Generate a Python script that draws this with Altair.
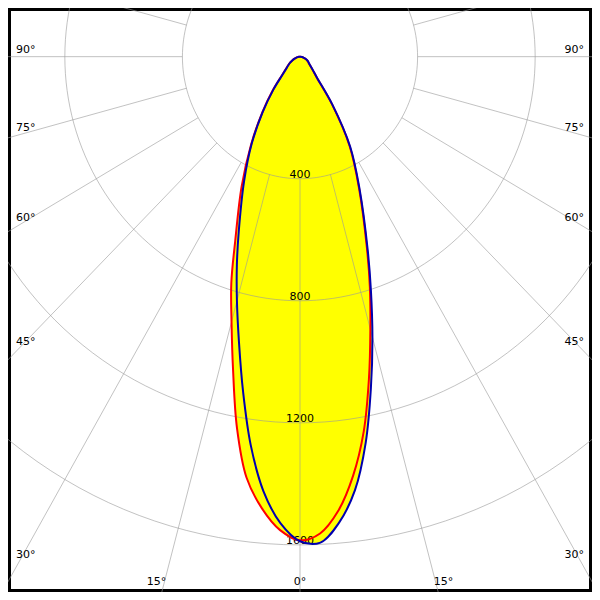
import altair as alt
import numpy as np
import pandas as pd

# ---- data (polar intensity curves, cd) ----
ANGLES = [-90, -85, -80, -75, -70, -65, -60, -55, -50, -45, -40, -35, -30, -25,
          -20, -17.5, -15, -12.5, -10, -7.5, -5, -2.5, 0, 2.5, 5, 7.5, 10, 12.5, 15, 17.5, 20,
          25, 30, 35, 40, 45, 50, 55, 60, 65, 70, 75, 80, 85, 90]  # from nadir, + = right
BLUE = [0, 4, 8, 14, 21, 29, 38, 48, 61, 85, 141, 221, 328, 450,
        609, 714, 829, 959, 1115, 1284, 1429, 1530, 1588, 1594, 1532, 1433, 1286, 1114, 952, 802, 673,
        480, 342, 192, 90, 61, 46, 37, 32, 26, 19, 12, 7, 3, 0]
RED = [0, 4, 8, 14, 21, 29, 39, 49, 63, 88, 144, 224, 333, 470,
       645, 777, 900, 1052, 1235, 1392, 1486, 1553, 1585, 1564, 1494, 1385, 1248, 1083, 925, 790, 665,
       475, 337, 189, 88, 60, 45, 36, 31, 25, 18, 12, 7, 3, 0]
RING_VALUES = [400, 800, 1200, 1600]
GRID_ANGLES = list(range(-165, 181, 15))
EDGE_LABEL_ANGLES = [30, 45, 60, 75, 90]
BOTTOM_LABEL_ANGLES = [0, 15]

# ---- scale setup ----
W = H = 584
PXX, PXY = 0.302, 0.3135          # reference px per cd (horizontal / vertical)
XMAX = 300 / PXX
YTOP = 50 / PXY
YBOT = 550 / PXY

xs = alt.Scale(domain=[-XMAX, XMAX], nice=False, zero=False)
ys = alt.Scale(domain=[-YBOT, YTOP], nice=False, zero=False)
X = lambda f: alt.X(f, type="quantitative", scale=xs, axis=None)
Y = lambda f: alt.Y(f, type="quantitative", scale=ys, axis=None)

# curves
rows = []
for name, vals in (("red", RED), ("blue", BLUE)):
    for i, (a, v) in enumerate(zip(ANGLES, vals)):
        t = np.radians(a)
        rows.append({"curve": name, "i": i, "x": v * np.sin(t), "y": -v * np.cos(t)})
curves = pd.DataFrame(rows)

# rings
rrows = []
for r in RING_VALUES:
    for k, p in enumerate(range(0, 361, 2)):
        t = np.radians(p)
        rrows.append({"ring": r, "i": k, "x": r * np.sin(t), "y": -r * np.cos(t)})
rings = pd.DataFrame(rrows)

# radial lines
rad = pd.DataFrame([{
    "x": RING_VALUES[0] * np.sin(np.radians(a)), "y": -RING_VALUES[0] * np.cos(np.radians(a)),
    "x2": 2200 * np.sin(np.radians(a)), "y2": -2200 * np.cos(np.radians(a))} for a in GRID_ANGLES])

ring_labels = pd.DataFrame({"x": [0] * len(RING_VALUES), "y": [-r for r in RING_VALUES],
                            "t": [str(r) for r in RING_VALUES]})

left_lab = pd.DataFrame([{"x": -XMAX,
                          "y": -(300 * np.cos(np.radians(a)) / np.sin(np.radians(a))) / PXY,
                          "t": f"{a}°"} for a in EDGE_LABEL_ANGLES])
right_lab = left_lab.assign(x=XMAX)
bottom_lab = pd.DataFrame([{"x": s * 550 * np.tan(np.radians(a)) / PXX, "y": -YBOT, "t": f"{a}°"}
                           for a in BOTTOM_LABEL_ANGLES for s in ((-1, 1) if a else (1,))])

FONT = "DejaVu Sans"

base_curves = alt.Chart(curves)
fill = base_curves.mark_line(fill="#ffff00", strokeWidth=0, interpolate="catmull-rom", clip=True).encode(
    x=X("x"), y=Y("y"), detail="curve:N", order="i:Q")

grid_rings = alt.Chart(rings).mark_line(stroke="#999999", strokeOpacity=0.6, strokeWidth=1, clip=True).encode(
    x=X("x"), y=Y("y"), detail="ring:N", order="i:Q")
grid_rad = alt.Chart(rad).mark_rule(stroke="#999999", strokeOpacity=0.6, strokeWidth=1, clip=True).encode(
    x=X("x"), y=Y("y"), x2="x2", y2="y2")

txt = dict(font=FONT, fontSize=11, color="black", baseline="alphabetic")
rl = alt.Chart(ring_labels).mark_text(align="center", dy=-1, **txt).encode(x=X("x"), y=Y("y"), text="t:N")
ll = alt.Chart(left_lab).mark_text(align="left", dx=8, dy=-4, **txt).encode(x=X("x"), y=Y("y"), text="t:N")
rr = alt.Chart(right_lab).mark_text(align="right", dx=-8, dy=-4, **txt).encode(x=X("x"), y=Y("y"), text="t:N")
bl = alt.Chart(bottom_lab).mark_text(align="center", dy=-7, **txt).encode(x=X("x"), y=Y("y"), text="t:N")

red_line = alt.Chart(curves[curves.curve == "red"]).mark_line(
    stroke="#ff0000", strokeWidth=2, interpolate="catmull-rom", clip=True).encode(
    x=X("x"), y=Y("y"), order="i:Q")
blue_line = alt.Chart(curves[curves.curve == "blue"]).mark_line(
    stroke="#0000b0", strokeWidth=2, interpolate="catmull-rom", clip=True).encode(
    x=X("x"), y=Y("y"), order="i:Q")

chart = alt.layer(fill, grid_rings, grid_rad, rl, ll, rr, bl, red_line, blue_line).properties(
    width=W, height=H, padding=0, background="white"
).configure_view(stroke="black", strokeWidth=6)

chart.save("out.html", embed_options={"renderer": "svg", "actions": False})
